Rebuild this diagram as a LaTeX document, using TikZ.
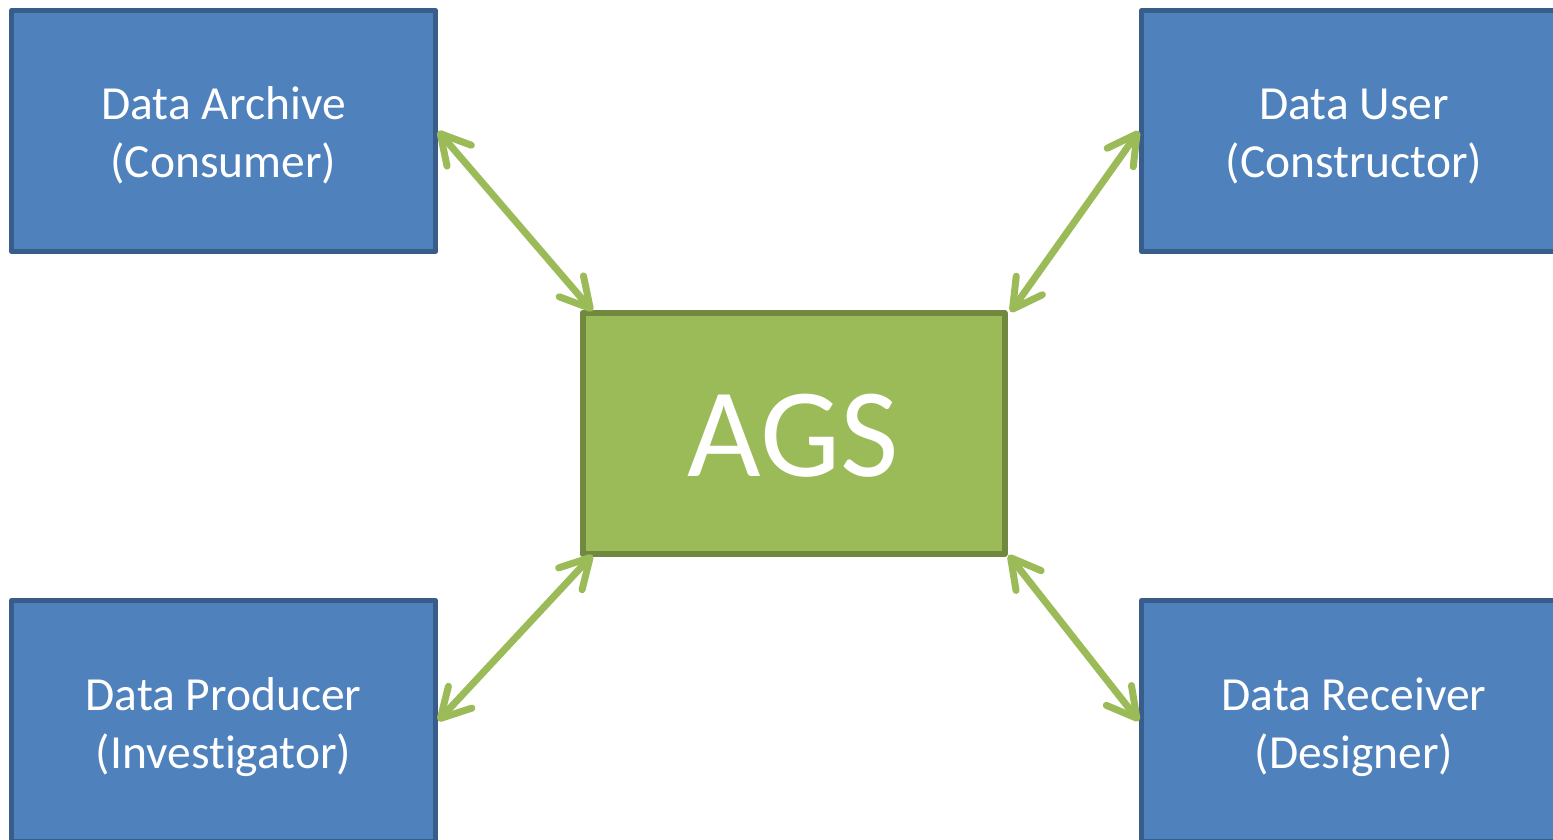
\documentclass[tikz,border=0pt]{standalone}
\usepackage{fontspec}
\setmainfont[Ligatures=NoCommon]{Carlito}
\usetikzlibrary{arrows.meta}
\definecolor{roleblue}{HTML}{4F81BD}
\definecolor{roleedge}{HTML}{385D8A}
\definecolor{agsgreen}{HTML}{9BBB59}
\definecolor{agsedge}{HTML}{71893F}
\tikzset{
  role/.style={rectangle, draw=roleedge, fill=roleblue, line width=5pt,
    line join=round, minimum width=424pt, minimum height=241pt, inner sep=0pt},
  hub/.style={rectangle, draw=agsedge, fill=agsgreen, line width=6pt,
    line join=round, minimum width=422pt, minimum height=241pt, inner sep=0pt},
  rolelabel/.style={anchor=base, text=white, inner sep=0pt,
    font=\fontsize{47.5}{58}\selectfont},
  hublabel/.style={anchor=base, text=white, inner sep=0pt,
    font=\fontsize{127}{150}\selectfont},
  link/.style={draw=agsgreen, line width=7pt, line cap=round,
    {Straight Barb[length=29pt, width=32pt, round]}-{Straight Barb[length=29pt, width=32pt, round]}}
}
\begin{document}
\begin{tikzpicture}[x=1pt, y=-1pt]
  \clip (0,0) rectangle (1553,840);
  \fill[white] (0,0) rectangle (1553,840);

  % the four roles around the hub
  \node[role] (archive)  at (223.5,131) {};
  \node[role] (user)     at (1353.5,131) {};
  \node[role] (producer) at (223.5,721) {};
  \node[role] (receiver) at (1353.5,721) {};

  % the hub
  \node[hub] (ags) at (793.5,433.5) {};

  % labels
  \node[rolelabel] (archiveA) at (223.5,120) {Data Archive};
  \node[rolelabel] (archiveB) at (223.5,178) {(Consumer)};
  \node[rolelabel] (userA) at (1354,120) {Data User};
  \node[rolelabel] (userB) at (1354,178) {(Constructor)};
  \node[rolelabel] (producerA) at (223.5,710) {Data Producer};
  \node[rolelabel] (producerB) at (223.5,768) {(Investigator)};
  \node[rolelabel] (receiverA) at (1354,710) {Data Receiver};
  \node[rolelabel] (receiverB) at (1354,768) {(Designer)};
  \node[hublabel] (agsA) at (793.5,476) {AGS};

  % two-way links
  \draw[link] (archive.east) -- ([xshift=13pt,yshift=-1pt]ags.north west);
  \draw[link] (user.west) -- ([xshift=3pt,yshift=-2pt]ags.north east);
  \draw[link] (producer.east) -- ([xshift=13pt,yshift=2pt]ags.south west);
  \draw[link] (receiver.west) -- ([xshift=1pt,yshift=2pt]ags.south east);
\end{tikzpicture}
\end{document}
